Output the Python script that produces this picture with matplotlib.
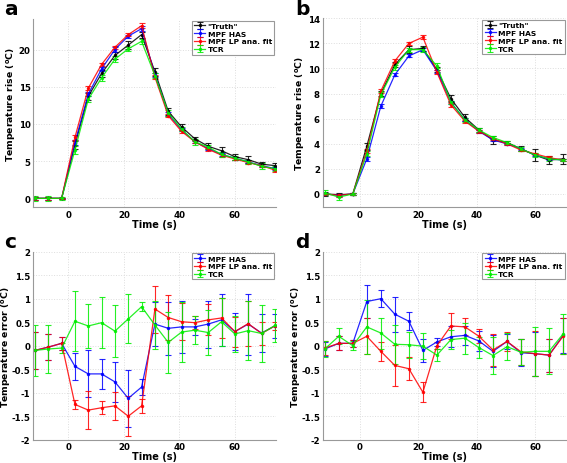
import matplotlib
matplotlib.use("Agg")
import matplotlib.pyplot as plt
import numpy as np

# time points (s)
t_ac = [-12.0, -7.2, -2.4, 2.4, 7.2, 12.0, 16.8, 21.6, 26.4, 31.2, 36.0, 40.8,
        45.6, 50.4, 55.2, 60.0, 64.8, 69.6, 74.4]
t_bd = t_ac[:18]

# --- panel a : temperature rise ---
a_truth = [0, 0, 0, 7.2, 13.7, 16.8, 19.2, 20.6, 22.0, 17.0, 11.7, 9.6, 8.0, 7.0, 6.4, 5.6, 5.2, 4.6, 4.4]
a_truth_err = [0.2, 0.2, 0.1, 0.5, 0.5, 0.5, 0.5, 0.5, 0.4, 0.5, 0.5, 0.4, 0.3, 0.4, 0.5, 0.4, 0.5, 0.3, 0.3]
a_has = [0, 0, 0, 7.5, 14.0, 17.4, 20.0, 21.8, 22.8, 16.6, 11.3, 9.2, 7.6, 6.7, 5.9, 5.4, 4.9, 4.4, 4.0]
a_has_err = [0.2, 0.2, 0.1, 0.3, 0.3, 0.3, 0.3, 0.2, 0.3, 0.3, 0.3, 0.2, 0.2, 0.2, 0.2, 0.2, 0.2, 0.2, 0.2]
a_lp = [0, 0, 0, 8.2, 14.8, 18.0, 20.3, 22.0, 23.2, 16.3, 11.1, 9.0, 7.6, 6.6, 5.8, 5.3, 4.8, 4.4, 3.8]
a_lp_err = [0.2, 0.2, 0.1, 0.3, 0.3, 0.2, 0.2, 0.2, 0.3, 0.3, 0.2, 0.2, 0.2, 0.2, 0.2, 0.2, 0.2, 0.2, 0.2]
a_tcr = [0, 0, 0, 6.5, 13.3, 16.2, 18.7, 20.1, 21.1, 16.5, 11.5, 9.3, 7.6, 6.9, 5.9, 5.4, 4.9, 4.3, 4.0]
a_tcr_err = [0.3, 0.3, 0.2, 0.5, 0.4, 0.4, 0.4, 0.3, 0.3, 0.3, 0.4, 0.3, 0.4, 0.3, 0.3, 0.3, 0.3, 0.4, 0.3]

# --- panel b : temperature rise ---
b_truth = [0.0, -0.05, 0, 3.8, 8.0, 10.3, 11.5, 11.6, 9.9, 7.6, 6.1, 5.1, 4.3, 4.1, 3.6, 3.1, 2.7, 2.8]
b_truth_err = [0.15, 0.1, 0.05, 0.3, 0.2, 0.2, 0.3, 0.2, 0.2, 0.3, 0.25, 0.15, 0.35, 0.15, 0.2, 0.45, 0.3, 0.4]
b_has = [0, -0.1, 0, 2.8, 7.0, 9.5, 11.0, 11.5, 9.8, 7.3, 5.9, 5.0, 4.3, 4.0, 3.6, 3.1, 2.8, 2.7]
b_has_err = [0.1, 0.1, 0.05, 0.15, 0.15, 0.12, 0.12, 0.12, 0.12, 0.12, 0.12, 0.1, 0.1, 0.1, 0.1, 0.1, 0.1, 0.1]
b_lp = [0, -0.1, 0, 3.4, 8.2, 10.6, 12.0, 12.5, 9.7, 7.1, 5.8, 5.0, 4.4, 4.0, 3.5, 3.2, 2.9, 2.7]
b_lp_err = [0.1, 0.1, 0.05, 0.15, 0.15, 0.15, 0.15, 0.15, 0.15, 0.15, 0.12, 0.1, 0.1, 0.1, 0.1, 0.1, 0.1, 0.1]
b_tcr = [0.1, -0.25, 0, 3.2, 7.9, 10.1, 11.5, 11.5, 10.2, 7.3, 5.9, 5.1, 4.5, 4.1, 3.6, 3.1, 2.8, 2.7]
b_tcr_err = [0.2, 0.2, 0.05, 0.2, 0.2, 0.2, 0.15, 0.2, 0.2, 0.15, 0.15, 0.15, 0.15, 0.15, 0.15, 0.15, 0.15, 0.1]

# --- panel c : temperature error ---
c_has = [-0.1, -0.03, 0.05, -0.44, -0.6, -0.6, -0.77, -1.12, -0.88, 0.46, 0.37, 0.4, 0.4, 0.46, 0.55, 0.3, 0.46, 0.27, 0.42]
c_has_err = [0.4, 0.28, 0.14, 0.28, 0.5, 0.32, 0.43, 0.6, 0.17, 0.47, 0.56, 0.55, 0.17, 0.5, 0.56, 0.4, 0.65, 0.4, 0.26]
c_lp = [-0.1, -0.03, 0.05, -1.25, -1.37, -1.32, -1.28, -1.5, -1.28, 0.78, 0.6, 0.51, 0.49, 0.55, 0.59, 0.3, 0.47, 0.26, 0.42]
c_lp_err = [0.4, 0.28, 0.14, 0.1, 0.4, 0.14, 0.3, 0.43, 0.15, 0.5, 0.48, 0.39, 0.14, 0.33, 0.43, 0.32, 0.48, 0.24, 0.08]
c_tcr = [-0.1, -0.07, -0.05, 0.52, 0.42, 0.49, 0.31, 0.57, 0.83, 0.44, 0.07, 0.29, 0.33, 0.28, 0.51, 0.25, 0.32, 0.26, 0.43]
c_tcr_err = [0.55, 0.52, 0.1, 0.64, 0.46, 0.54, 0.56, 0.52, 0.1, 0.52, 0.65, 0.63, 0.3, 0.48, 0.51, 0.38, 0.63, 0.6, 0.35]

# --- panel d : temperature error ---
d_has = [-0.07, 0.05, 0.05, 0.94, 1.0, 0.67, 0.52, -0.1, 0.08, 0.19, 0.22, 0.1, -0.12, 0.09, -0.15, -0.17, -0.2, 0.22]
d_has_err = [0.15, 0.15, 0.08, 0.35, 0.18, 0.37, 0.19, 0.25, 0.09, 0.22, 0.2, 0.22, 0.34, 0.16, 0.29, 0.47, 0.35, 0.38]
d_lp = [-0.05, 0.05, 0.05, 0.2, -0.12, -0.42, -0.49, -0.99, 0.0, 0.42, 0.4, 0.2, -0.09, 0.09, -0.13, -0.17, -0.2, 0.2]
d_lp_err = [0.14, 0.15, 0.08, 0.38, 0.2, 0.43, 0.24, 0.21, 0.07, 0.28, 0.18, 0.15, 0.34, 0.2, 0.28, 0.48, 0.35, 0.38]
d_tcr = [-0.07, 0.2, 0.0, 0.4, 0.27, 0.03, 0.02, -0.01, -0.2, 0.13, 0.16, -0.04, -0.21, -0.02, -0.14, -0.12, -0.12, 0.25]
d_tcr_err = [0.17, 0.17, 0.1, 0.58, 0.33, 0.41, 0.28, 0.27, 0.13, 0.2, 0.33, 0.23, 0.4, 0.29, 0.28, 0.52, 0.49, 0.43]

names = ['"Truth"', 'MPF HAS', 'MPF LP ana. fit', 'TCR']
colors = ['#000000', '#0000ff', '#ff0000', '#00ee00']

plt.rcParams['font.family'] = 'DejaVu Sans'
plt.rcParams['font.weight'] = 'bold'
plt.rcParams['mathtext.fontset'] = 'dejavusans'

W, H = 567, 464
fig = plt.figure(figsize=(W / 100, H / 100), dpi=100)


def px_axes(left, top, right, bottom):
    return fig.add_axes([left / W, 1 - bottom / H, (right - left) / W, (bottom - top) / H])


ax_a = px_axes(33.3, 20, 275.7, 208.3)
ax_b = px_axes(322.7, 19.3, 566, 208.3)
ax_c = px_axes(33.3, 252.7, 275.7, 440.7)
ax_d = px_axes(322.7, 252.7, 566, 440.7)

err_ticks = [-2, -1.5, -1, -0.5, 0, 0.5, 1, 1.5, 2]

# (axes, temps, séries, légendes, couleurs, xlim, ylim, yticks, ylabel, position ylabel, lettre, position lettre)
panels = [
    (ax_a, t_ac, [(a_truth, a_truth_err), (a_has, a_has_err), (a_lp, a_lp_err), (a_tcr, a_tcr_err)],
     names, colors, (-12.6, 74.7), (-1.2, 24.1), [0, 5, 10, 15, 20], 'Temperature rise',
     (-0.063, 0.55), 'a', (4, 15)),
    (ax_b, t_bd, [(b_truth, b_truth_err), (b_has, b_has_err), (b_lp, b_lp_err), (b_tcr, b_tcr_err)],
     names, colors, (-12.7, 70.6), (-1.06, 14), [0, 2, 4, 6, 8, 10, 12, 14], 'Temperature rise',
     (-0.065, 0.5), 'b', (295, 15)),
    (ax_c, t_ac, [(c_has, c_has_err), (c_lp, c_lp_err), (c_tcr, c_tcr_err)],
     names[1:], colors[1:], (-12.6, 74.7), (-2, 2), err_ticks, 'Temperature error',
     (-0.083, 0.5), 'c', (4, 248)),
    (ax_d, t_bd, [(d_has, d_has_err), (d_lp, d_lp_err), (d_tcr, d_tcr_err)],
     names[1:], colors[1:], (-12.7, 70.6), (-2, 2), err_ticks, 'Temperature error',
     (-0.083, 0.5), 'd', (295, 248)),
]

for ax, t, series, labels, cols, xl, yl, yt, ylab, ylab_pos, letter, let_pos in panels:
    for (y, e), lab, col in zip(series, labels, cols):
        ax.errorbar(t, y, yerr=e, color=col, ecolor=col, elinewidth=0.8, capsize=2.2, capthick=0.8,
                    linewidth=0.9, marker='.', markersize=3, label=lab, alpha=0.85)
    ax.set_xlim(*xl)
    ax.set_ylim(*yl)
    ax.set_xticks([0, 20, 40, 60])
    ax.set_yticks(yt)
    ax.set_yticklabels([('%g' % v) for v in yt])
    ax.tick_params(length=0, labelsize=6.2, pad=2)
    for s in ['top', 'right']:
        ax.spines[s].set_visible(False)
    for s in ['left', 'bottom']:
        ax.spines[s].set_color('#999999')
        ax.spines[s].set_linewidth(0.8)
    ax.grid(True, color='#dddddd', linestyle=':', linewidth=0.7)
    ax.set_xlabel('Time (s)', fontsize=7, fontweight='bold', labelpad=0)
    ax.set_ylabel(ylab + r' ($^{\mathbf{o}}$C)', fontsize=6.7, fontweight='bold')
    ax.yaxis.set_label_coords(*ylab_pos)
    leg = ax.legend(loc='upper right', fontsize=5.4, handlelength=1.5, handletextpad=0.3,
                    borderpad=0.3, labelspacing=0.2, borderaxespad=0.2, fancybox=False,
                    framealpha=1)
    leg.get_frame().set_edgecolor('#999999')
    leg.get_frame().set_linewidth(0.8)
    # lettre du panneau, en pixels depuis le coin haut-gauche
    fig.text(let_pos[0] / W, 1 - let_pos[1] / H, letter, fontsize=14.5, fontweight='bold',
             va='baseline', ha='left')

fig.savefig('out.png', dpi=100)
